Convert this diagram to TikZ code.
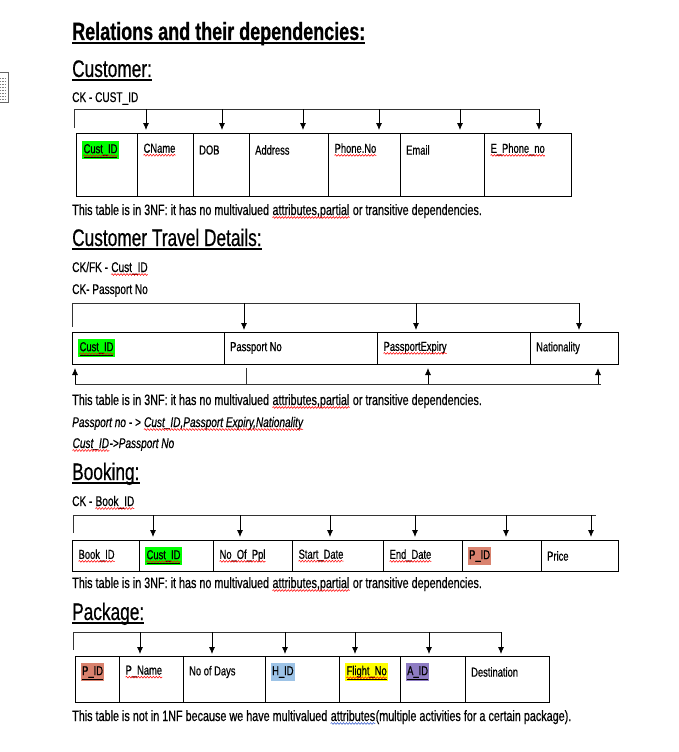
\documentclass[tikz,border=0pt]{standalone}
\usepackage{fontspec}
\setmainfont{Liberation Sans}[FakeStretch=0.72,FakeBold=0.6]
\usetikzlibrary{arrows.meta,decorations.pathmorphing}

\definecolor{hlgreen}{HTML}{00FF00}
\definecolor{hlred}{HTML}{D9826E}
\definecolor{hlblue}{HTML}{9DC3E6}
\definecolor{hlyellow}{HTML}{FFFF00}
\definecolor{hlpurple}{HTML}{8E7CC3}
\definecolor{gramblue}{HTML}{3A5FCD}

\tikzset{squig/.style={line width=0.5pt,decorate,decoration={snake,amplitude=0.9pt,segment length=3pt}}}
\newcommand\wavy[2]{\tikz[baseline=(w.base)]{\node[inner sep=0pt] (w) {#2};
	\draw[#1,squig] ([yshift=-2.5pt]w.base west) -- ([yshift=-2.5pt]w.base east);}}
\newcommand\spl[1]{\wavy{red}{#1}}
\newcommand\grm[1]{\wavy{gramblue}{#1}}
\newcommand\hlt[2]{{\setlength{\fboxsep}{1pt}\colorbox{#1}{\strut #2}}}

\begin{document}
\begin{tikzpicture}[x=1pt,y=-1pt]
	\tikzset{every node/.append style={inner sep=0pt}}
	\tikzset{head/.style={anchor=base west,font=\bfseries\fontsize{25}{29}\selectfont}}
	\tikzset{sub/.style={anchor=base west,font=\fontsize{24}{28}\selectfont}}
	\tikzset{txt/.style={anchor=base west,font=\fontsize{15}{18}\selectfont}}
	\tikzset{keys/.style={anchor=base west,font=\fontsize{14}{17}\selectfont}}
	\tikzset{fd/.style={anchor=base west,font=\itshape\fontsize{14}{17}\selectfont}}
	\tikzset{cell/.style={draw,line width=1pt,anchor=north west}}
	\tikzset{cellt/.style={anchor=west,font=\fontsize{13}{16}\selectfont}}
	\tikzset{bar/.style={draw=black!80,line width=0.9pt}}
	\tikzset{dep/.style={-{Latex[length=7pt,width=6pt]},line width=0.8pt}}
	\useasboundingbox (0,0) rectangle (678,752);
	% side marker
	\node[draw=black!60,line width=0.6pt,minimum width=9pt,minimum height=30pt,anchor=north west] (mark) at (-1,72) {};
	\foreach \y in {78,81,...,99} \draw[black!50,line width=0.5pt,dash pattern=on 1pt off 0.6pt] (0,\y) -- (5,\y);
	% headings
	\node[head] (title) at (72,40) {Relations and their dependencies:};
	\draw[line width=1.4pt] ([yshift=-3pt]title.base west) -- ([yshift=-3pt]title.base east);
	% Customer
	\node[sub] (cust) at (72,77) {Customer:};
	\draw[line width=1.1pt] ([yshift=-3pt]cust.base west) -- ([yshift=-3pt]cust.base east);
	\node[keys] (custck) at (72,102) {CK - CUST\_ID};
	\foreach \l/\r/\t [count=\i] in {76/137/{\hlt{hlgreen}{\spl{\underline{Cust\_ID}}}},137/193/{\spl{CName}},193/249/{DOB},249/328/{Address},328/400/{\spl{Phone.No}},400/484/{Email},484/571/{\spl{E\_Phone\_no}}}{
		\node[cell,minimum width={(\r-\l)*1pt},minimum height=63pt] (cu\i) at (\l,133) {};
		\node[cellt] (cut\i) at ([xshift=6pt,yshift=-17pt]cu\i.north west) {\t};
	}
	\coordinate (cubar) at (74,109);
	\draw[bar] ([yshift=-19pt]cubar) -- (cubar) -- (540,109);
	\foreach \x in {146,222,303,379,460,539} \draw[dep] (\x,109) -- (\x,0 |- cu1.north) [shorten >=3pt];
	\node[txt] (custnote) at (72,215) {This table is in 3NF: it has no multivalued \spl{attributes,partial} or transitive dependencies.};
	% Customer Travel Details
	\node[sub] (trav) at (72,246) {Customer Travel Details:};
	\draw[line width=1.1pt] ([yshift=-3pt]trav.base west) -- ([yshift=-3pt]trav.base east);
	\node[keys] (travfk) at (72,272) {CK/FK - \spl{Cust\_ID}};
	\node[keys] (travck) at (72,294) {CK- Passport No};
	\foreach \l/\r/\t [count=\i] in {72/224/{\hlt{hlgreen}{\spl{\underline{Cust\_ID}}}},224/377/{Passport No},377/530/{\spl{PassportExpiry}},530/618/{Nationality}}{
		\node[cell,minimum width={(\r-\l)*1pt},minimum height=32pt] (tr\i) at (\l,332) {};
		\node[cellt] (trt\i) at ([xshift=6pt,yshift=-16pt]tr\i.north west) {\t};
	}
	\coordinate (trbar) at (72,303);
	\draw[bar] ([yshift=-24pt]trbar) -- (trbar) -- (580,303);
	\foreach \x in {244,416,579} \draw[dep] (\x,303) -- (\x,0 |- tr1.north) [shorten >=2pt];
	\coordinate (trlow) at (75,384);
	\draw[bar] (trlow) -- (601,384);
	\draw[bar] (246,384) -- (246,0 |- tr1.south) [shorten >=3pt];
	\foreach \x in {75,428,598} \draw[dep] (\x,384) -- (\x,0 |- tr1.south) [shorten >=3pt];
	\node[txt] (travnote) at (72,405) {This table is in 3NF: it has no multivalued \spl{attributes,partial} or transitive dependencies.};
	\node[fd] (travfd1) at (72,427) {Passport no - > \spl{Cust\_ID,Passport Expiry,Nationality}};
	\node[fd] (travfd2) at (72,448) {\spl{Cust\_ID}->Passport No};
	% Booking
	\node[sub] (book) at (72,480) {Booking:};
	\draw[line width=1.1pt] ([yshift=-3pt]book.base west) -- ([yshift=-3pt]book.base east);
	\node[keys] (bookck) at (72,506) {CK - \spl{Book\_ID}};
	\foreach \l/\r/\t [count=\i] in {72/139/{\spl{Book\_ID}},139/213/{\hlt{hlgreen}{\spl{\underline{Cust\_ID}}}},213/292/{\spl{No\_Of\_Ppl}},292/383/{\spl{Start\_Date}},383/462/{\spl{End\_Date}},462/541/{\hlt{hlred}{P\_ID}},541/618/{Price}}{
		\node[cell,minimum width={(\r-\l)*1pt},minimum height=31pt] (bo\i) at (\l,540) {};
		\node[cellt] (bot\i) at ([xshift=6pt,yshift=-16pt]bo\i.north west) {\t};
	}
	\coordinate (bobar) at (73,515);
	\draw[bar] ([yshift=-18pt]bobar) -- (bobar) -- (596,515);
	\foreach \x in {153,240,330,415,506,591} \draw[dep] (\x,515) -- (\x,0 |- bo1.north) [shorten >=3pt];
	\node[txt] (booknote) at (72,588) {This table is in 3NF: it has no multivalued \spl{attributes,partial} or transitive dependencies.};
	% Package
	\node[sub] (pack) at (72,620) {Package:};
	\draw[line width=1.1pt] ([yshift=-3pt]pack.base west) -- ([yshift=-3pt]pack.base east);
	\foreach \l/\r/\t [count=\i] in {75/119/{\hlt{hlred}{\underline{P\_ID}}},119/183/{\spl{P\_Name}},183/265/{No of Days},265/339/{\hlt{hlblue}{H\_ID}},339/400/{\hlt{hlyellow}{\spl{\underline{Flight\_No}}}},400/465/{\hlt{hlpurple}{\underline{A\_ID}}},465/549/{Destination}}{
		\node[cell,minimum width={(\r-\l)*1pt},minimum height=46pt] (pa\i) at (\l,656) {};
		\node[cellt] (pat\i) at ([xshift=6pt,yshift=-16pt]pa\i.north west) {\t};
	}
	\coordinate (pabar) at (73,632);
	\draw[bar] ([yshift=-18pt]pabar) -- (pabar) -- (502,632);
	\foreach \x in {140,212,285,355,429,501} \draw[dep] (\x,632) -- (\x,0 |- pa1.north) [shorten >=2pt];
	\node[txt] (packnote) at (72,721) {This table is not in 1NF because we have multivalued \grm{attributes}(multiple activities for a certain package).};
\end{tikzpicture}
\end{document}
